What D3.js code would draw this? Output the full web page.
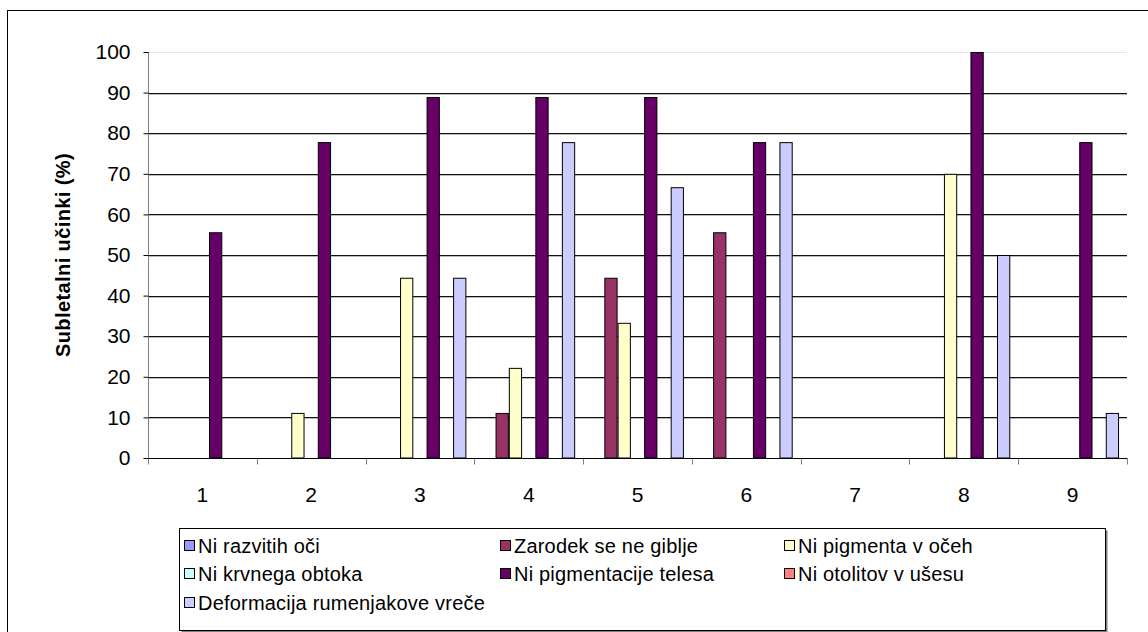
<!DOCTYPE html>
<html>
<head>
<meta charset="utf-8">
<script src="https://cdn.jsdelivr.net/npm/d3@7"></script>
<style>
  html, body { margin: 0; padding: 0; background: #fff; }
  svg { display: block; font-family: "Liberation Sans", Arial, sans-serif; }
</style>
</head>
<body>
<svg id="chart" width="1148" height="632"></svg>
<script>
// Categories along the x axis
const categories = ["1", "2", "3", "4", "5", "6", "7", "8", "9"];

// Series names (legend order) and fill colours
const seriesNames = [
  "Ni razvitih oči",
  "Zarodek se ne giblje",
  "Ni pigmenta v očeh",
  "Ni krvnega obtoka",
  "Ni pigmentacije telesa",
  "Ni otolitov v ušesu",
  "Deformacija rumenjakove vreče"
];
const seriesColors = ["#9999FF", "#993366", "#FFFFCC", "#CCFFFF", "#660066", "#FF8080", "#CCCCFF"];

// Values (%) per series, one entry per category
const niRazvitihOci        = [0, 0, 0, 0, 0, 0, 0, 0, 0];
const zarodekSeNeGiblje    = [0, 0, 0, 11.1, 44.4, 55.6, 0, 0, 0];
const niPigmentaVOceh      = [0, 11.1, 44.4, 22.2, 33.3, 0, 0, 70, 0];
const niKrvnegaObtoka      = [0, 0, 0, 0, 0, 0, 0, 0, 0];
const niPigmentacijeTelesa = [55.6, 77.8, 88.9, 88.9, 88.9, 77.8, 0, 100, 77.8];
const niOtolitovVUsesu     = [0, 0, 0, 0, 0, 0, 0, 0, 0];
const deformacijaVrece     = [0, 0, 44.4, 77.8, 66.7, 77.8, 0, 50, 11.1];

const seriesValues = [
  niRazvitihOci, zarodekSeNeGiblje, niPigmentaVOceh, niKrvnegaObtoka,
  niPigmentacijeTelesa, niOtolitovVUsesu, deformacijaVrece
];

// Y axis ticks
const yTicks = [0, 10, 20, 30, 40, 50, 60, 70, 80, 90, 100];
const yTitle = "Subletalni učinki (%)";

const svg = d3.select("#chart");

// Outer chart frame
svg.append("rect")
  .attr("x", 7.5).attr("y", 10.5)
  .attr("width", 1300).attr("height", 800)
  .attr("fill", "#fff").attr("stroke", "#000").attr("stroke-width", 1);

const plot = { left: 148, right: 1127, top: 52, bottom: 458 };

const y = d3.scaleLinear().domain([0, 100]).range([plot.bottom, plot.top]);
const x0 = d3.scaleBand().domain(categories).range([plot.left, plot.right]).padding(0);
const catW = x0.bandwidth();
const x1 = d3.scaleBand().domain(d3.range(seriesNames.length))
  .range([0, catW]).paddingInner(0).paddingOuter(0.6);

// Top border of the plot area
svg.append("line")
  .attr("x1", plot.left).attr("x2", plot.right)
  .attr("y1", y(100) + 0.5).attr("y2", y(100) + 0.5)
  .attr("stroke", "#e6e6e6");

// Horizontal gridlines (dark line with a soft grey edge below)
const gridVals = yTicks.filter(t => t > 0 && t < 100);
svg.append("g").selectAll("line")
  .data(gridVals)
  .join("line")
  .attr("x1", plot.left).attr("x2", plot.right)
  .attr("y1", d => Math.round(y(d)) + 1.5).attr("y2", d => Math.round(y(d)) + 1.5)
  .attr("stroke", "#bbb").attr("stroke-width", 1);
svg.append("g").selectAll("line")
  .data(gridVals)
  .join("line")
  .attr("x1", plot.left).attr("x2", plot.right)
  .attr("y1", d => Math.round(y(d)) + 0.5).attr("y2", d => Math.round(y(d)) + 0.5)
  .attr("stroke", "#111").attr("stroke-width", 1);

// Bars
const groups = svg.append("g").selectAll("g")
  .data(categories)
  .join("g")
  .attr("transform", d => `translate(${x0(d)},0)`);

groups.selectAll("rect")
  .data((d, i) => seriesValues.map((vals, s) => ({ s, v: vals[i] })).filter(e => e.v > 0))
  .join("rect")
  .attr("x", d => x1(d.s) + 0.5)
  .attr("y", d => y(d.v) + 0.5)
  .attr("width", x1.bandwidth() - 1)
  .attr("height", d => y(0) - y(d.v) - 0.5)
  .attr("fill", d => seriesColors[d.s])
  .attr("stroke", "#000").attr("stroke-width", 1);

// Y axis
const yAxis = svg.append("g")
  .attr("transform", `translate(${plot.left + 0.5},0)`)
  .call(d3.axisLeft(y).tickValues(yTicks).tickSize(5).tickPadding(13));
yAxis.select(".domain").attr("stroke", "#808080").attr("d", `M0,${plot.top}V${plot.bottom}`);
yAxis.selectAll(".tick line").attr("stroke", "#000");
yAxis.selectAll(".tick text")
  .attr("font-size", 21).attr("fill", "#000")
  .attr("font-family", "Liberation Sans, Arial, sans-serif");

// X axis
const xAxisG = svg.append("g").attr("transform", `translate(0,${plot.bottom + 0.5})`);
xAxisG.append("line")
  .attr("x1", plot.left).attr("x2", plot.right + 0.5)
  .attr("stroke", "#000");
xAxisG.selectAll("line.tick")
  .data(categories.map(c => x0(c)).concat([plot.right]))
  .join("line").attr("class", "tick")
  .attr("x1", d => Math.round(d) + 0.5).attr("x2", d => Math.round(d) + 0.5)
  .attr("y1", 0).attr("y2", 6)
  .attr("stroke", "#808080");
xAxisG.selectAll("text")
  .data(categories)
  .join("text")
  .attr("x", d => x0(d) + catW / 2)
  .attr("y", 43)
  .attr("text-anchor", "middle")
  .attr("font-size", 21)
  .text(d => d);

// Y axis title
svg.append("text")
  .attr("transform", `translate(70,${(plot.top + plot.bottom) / 2}) rotate(-90)`)
  .attr("text-anchor", "middle")
  .attr("font-size", 20).attr("font-weight", "bold")
  .attr("letter-spacing", 0.4)
  .text(yTitle);

// Legend
const legend = { x: 179, y: 528, w: 926, h: 102 };
svg.append("rect")
  .attr("x", legend.x + 2.5).attr("y", legend.y + 2.5)
  .attr("width", legend.w).attr("height", legend.h)
  .attr("fill", "#808080");
svg.append("rect")
  .attr("x", legend.x + 0.5).attr("y", legend.y + 0.5)
  .attr("width", legend.w).attr("height", legend.h)
  .attr("fill", "#fff").attr("stroke", "#000");

const colX = [184, 500, 784];
const rowY = [546, 574, 603];
const items = svg.append("g").selectAll("g")
  .data(seriesNames)
  .join("g")
  .attr("transform", (d, i) => `translate(${colX[i % 3]},${rowY[Math.floor(i / 3)]})`);
items.append("rect")
  .attr("x", 0.5).attr("y", -5.5)
  .attr("width", 10).attr("height", 10)
  .attr("fill", (d, i) => seriesColors[i])
  .attr("stroke", "#000");
items.append("text")
  .attr("x", 14).attr("y", 7)
  .attr("font-size", 20)
  .attr("letter-spacing", 0.2)
  .text(d => d);
</script>
</body>
</html>
